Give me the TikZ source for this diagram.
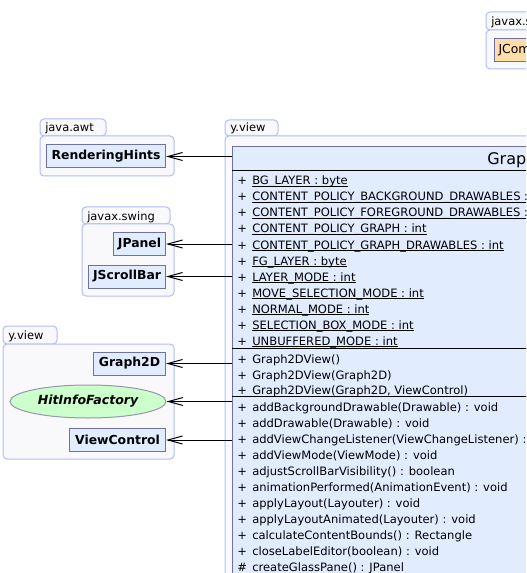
\documentclass[tikz,border=0pt]{standalone}
\usepackage{fontspec}
\setmainfont{DejaVu Sans}
\usetikzlibrary{arrows.meta,shapes.geometric}
\definecolor{pkgline}{RGB}{178,188,250}
\definecolor{pkgfill}{RGB}{249,249,251}
\definecolor{clsline}{RGB}{112,112,168}
\definecolor{clsfill}{RGB}{226,236,255}
\definecolor{ifcline}{RGB}{150,150,172}
\definecolor{ifcfill}{RGB}{204,255,204}
\definecolor{extfill}{RGB}{255,221,170}
\newcommand{\stat}[1]{\setbox0\hbox{#1}\rlap{\rule[-1.2pt]{\wd0}{0.5pt}}\box0}

\begin{document}
\begin{tikzpicture}[x=0.75pt,y=-0.75pt]
        \tikzset{pkg/.style={draw=pkgline, fill=pkgfill, line width=0.75pt, rounded corners=3pt},
                 pkglabel/.style={anchor=base west, inner sep=0pt, font=\fontsize{8.6pt}{10pt}\selectfont},
                 cls/.style={draw=clsline, fill=clsfill, line width=0.75pt, anchor=east, inner sep=0pt, minimum height=17.25pt, font=\fontsize{9.3pt}{11pt}\selectfont\bfseries},
                 ifc/.style={ellipse, draw=ifcline, fill=ifcfill, line width=0.75pt, inner sep=0pt, minimum width=117pt, minimum height=24.75pt, font=\fontsize{9.4pt}{11pt}\selectfont\bfseries\itshape},
                 member/.style={anchor=base west, inner sep=0pt, font=\fontsize{8.65pt}{10pt}\selectfont},
                 dep/.style={-{Straight Barb[length=11pt,width=6pt]}, line width=0.75pt}}
        \useasboundingbox[fill=white] (0,0) rectangle (526,573);
        \clip (0,0) rectangle (526,573);

	%---PACKAGES---
        \draw[pkg] (486,12) rectangle (600,30);
        \draw[pkg] (486,30) rectangle (640,69);
        \node[pkglabel] (swingtop) at (491,26) {javax.swing};

        \draw[pkg] (40,119) rectangle (106,136);
        \draw[pkg] (40,136) rectangle (174,176);
        \node[pkglabel] (awt) at (45,132) {java.awt};

        \draw[pkg] (82,207) rectangle (170,224);
        \draw[pkg] (82,224) rectangle (174,296);
        \node[pkglabel] (swing) at (87,220) {javax.swing};

        \draw[pkg] (3,326) rectangle (57,344);
        \draw[pkg] (3,344) rectangle (174,459);
        \node[pkglabel] (yview) at (8,339) {y.view};

        \draw[pkg] (225,120) rectangle (278,136);
        \draw[pkg] (225,136) rectangle (900,700);
        \node[pkglabel] (yviewmain) at (230,132) {y.view};

	%---NODES---
        \node[cls, fill=extfill, anchor=west, inner xsep=3pt, font=\fontsize{9.3pt}{11pt}\selectfont] (jcomp) at (494,50) {JComponent};
        \node[cls, minimum width=89.25pt] (hints) at (166,156.5) {RenderingHints};
        \node[cls, minimum width=39pt] (jpanel) at (166,244) {JPanel};
        \node[cls, minimum width=57.75pt] (jscroll) at (166,276.5) {JScrollBar};
        \node[cls, minimum width=54pt] (graph) at (166,363.5) {Graph2D};
        \node[ifc] (hitinfo) at (88,401.5) {HitInfoFactory};
        \node[cls, minimum width=72pt] (control) at (166,440) {ViewControl};

        % Graph2DView, wider than the visible part
        \node[cls, anchor=north west, minimum width=462pt, minimum height=337.5pt] (view) at (232,146) {};
        \node[anchor=base west, inner sep=0pt, font=\fontsize{12pt}{14pt}\selectfont] (viewname) at (487,165) {Graph2DView};
        \draw[line width=0.75pt] (232,171) -- (694,171);
        \draw[line width=0.75pt] (232,348) -- (694,348);
        \draw[line width=0.75pt] (232,396) -- (694,396);

        \foreach \t [count=\i] in {BG\_LAYER : byte, CONTENT\_POLICY\_BACKGROUND\_DRAWABLES : int,
            CONTENT\_POLICY\_FOREGROUND\_DRAWABLES : int, CONTENT\_POLICY\_GRAPH : int,
            CONTENT\_POLICY\_GRAPH\_DRAWABLES : int, FG\_LAYER : byte, LAYER\_MODE : int,
            MOVE\_SELECTION\_MODE : int, NORMAL\_MODE : int, SELECTION\_BOX\_MODE : int,
            UNBUFFERED\_MODE : int}
            \node[member] (attr\i) at (237,169+16*\i) {\makebox[11.25pt][l]{+}\stat{\t}};

        \foreach \t [count=\i] in {Graph2DView(), Graph2DView(Graph2D), {Graph2DView(Graph2D, ViewControl)}}
            \node[member] (ctor\i) at (237,348+15.5*\i) {\makebox[11.25pt][l]{+}\t};

        \foreach \v/\t [count=\i] in {+/addBackgroundDrawable(Drawable) : void, +/addDrawable(Drawable) : void,
            +/addViewChangeListener(ViewChangeListener) : void, +/addViewMode(ViewMode) : void,
            +/adjustScrollBarVisibility() : boolean, +/animationPerformed(AnimationEvent) : void,
            +/applyLayout(Layouter) : void, +/applyLayoutAnimated(Layouter) : void,
            +/calculateContentBounds() : Rectangle, +/closeLabelEditor(boolean) : void,
            \#/createGlassPane() : JPanel}
            \node[member] (meth\i) at (237,395+16*\i) {\makebox[11.25pt][l]{\v}\t};

	%---EDGES---
        \draw[dep] (view.west |- hints.east) -- (hints.east);
        \draw[dep] (view.west |- jpanel.east) -- (jpanel.east);
        \draw[dep] (view.west |- jscroll.east) -- (jscroll.east);
        \draw[dep] (view.west |- graph.east) -- (graph.east);
        \draw[dep] (view.west |- hitinfo.east) -- (hitinfo.east);
        \draw[dep] (view.west |- control.east) -- (control.east);

\end{tikzpicture}
\end{document}
